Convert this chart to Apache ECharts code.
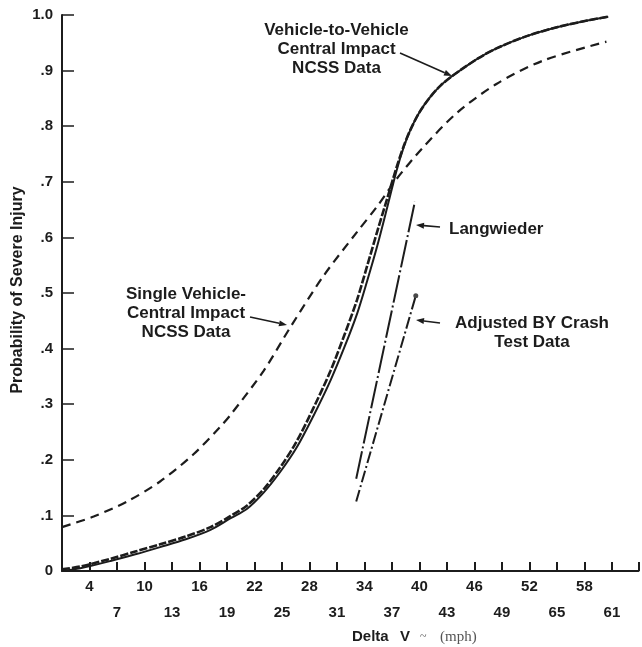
<!DOCTYPE html>
<html>
<head>
<meta charset="utf-8">
<script src="https://cdn.jsdelivr.net/npm/echarts@6/dist/echarts.min.js"></script>
<style>
html,body{margin:0;padding:0;background:#fff;}
#chart{width:642px;height:647px;}
</style>
</head>
<body>
<div id="chart"></div>
<script>
// ---- Data ----
const xTicksRow1 = [4, 10, 16, 22, 28, 34, 40, 46, 52, 58];
const xLabelsRow1 = ['4', '10', '16', '22', '28', '34', '40', '46', '52', '58'];
const xTicksRow2 = [7, 13, 19, 25, 31, 37, 43, 49, 55, 61];
const xLabelsRow2 = ['7', '13', '19', '25', '31', '37', '43', '49', '65', '61'];
const yTickValues = [0, 0.1, 0.2, 0.3, 0.4, 0.5, 0.6, 0.7, 0.8, 0.9, 1.0];
const yTickLabels = ['0', '.1', '.2', '.3', '.4', '.5', '.6', '.7', '.8', '.9', '1.0'];

// Vehicle-to-Vehicle Central Impact NCSS Data (solid)
const vvSolidX = [1, 3, 6.3, 9, 11.7, 14.5, 17.2, 19.4, 21.2, 23, 24.8, 26.6, 28.4, 30.3, 31.8, 33.2, 34.3, 35.4, 36.5, 37.5, 38.3, 39, 40, 41.2, 42.3, 43.4, 44.4, 46.4, 48.4, 51.7, 55, 58.3, 60.6];
const vvSolidY = [0, 0.005, 0.018, 0.03, 0.043, 0.057, 0.074, 0.095, 0.112, 0.141, 0.178, 0.222, 0.278, 0.343, 0.402, 0.463, 0.522, 0.585, 0.655, 0.72, 0.763, 0.793, 0.825, 0.853, 0.873, 0.888, 0.9, 0.922, 0.94, 0.962, 0.978, 0.99, 0.997];
// Vehicle-to-Vehicle (heavy dashed)
const vvDashX = [1, 3, 6.3, 9, 11.7, 14.5, 17.2, 19.4, 21.2, 23, 24.8, 26.6, 28.4, 30.3, 31.8, 33.2, 34.3, 35.4, 36.5, 37.5, 38.3, 39, 40, 41.2, 42.3, 43.4, 44.4, 46.4, 48.4, 51.7, 55, 58.3, 60.6];
const vvDashY = [0.003, 0.008, 0.022, 0.035, 0.048, 0.062, 0.079, 0.099, 0.118, 0.147, 0.186, 0.233, 0.292, 0.36, 0.424, 0.488, 0.549, 0.611, 0.671, 0.726, 0.765, 0.793, 0.825, 0.853, 0.873, 0.888, 0.9, 0.922, 0.94, 0.962, 0.978, 0.99, 0.997];
// Single Vehicle Central Impact NCSS Data (dashed)
const svX = [1, 4.45, 8.1, 11.7, 15.35, 18.3, 19.35, 23, 25.9, 29.5, 33.2, 35.35, 37.5, 40.4, 44.1, 48.4, 53.5, 60.4];
const svY = [0.079, 0.098, 0.125, 0.161, 0.21, 0.26, 0.28, 0.36, 0.438, 0.53, 0.61, 0.655, 0.705, 0.762, 0.824, 0.876, 0.918, 0.952];
// Langwieder
const langX = [33.1, 39.5];
const langY = [0.166, 0.664];
// Adjusted BY Crash Test Data
const adjX = [33.1, 39.6];
const adjY = [0.125, 0.495];

function pairs(xs, ys) { return xs.map((x, i) => [x, ys[i]]); }

const ink = '#1c1c1c';
const sans = '"Liberation Sans", Arial, sans-serif';

function arrow(x1, y1, x2, y2) {
  const ang = Math.atan2(y2 - y1, x2 - x1);
  const L = 8, W = 3;
  const bx = x2 - L * Math.cos(ang), by = y2 - L * Math.sin(ang);
  const px = -Math.sin(ang) * W, py = Math.cos(ang) * W;
  return [
    { type: 'line', shape: { x1: x1, y1: y1, x2: bx, y2: by }, style: { stroke: ink, lineWidth: 1.6 } },
    { type: 'polygon', shape: { points: [[x2, y2], [bx + px, by + py], [bx - px, by - py]] }, style: { fill: ink } }
  ];
}

function txt(x, y, text, align) {
  return { type: 'text', x: x, y: y, style: { text: text, font: 'bold 17px ' + sans, fill: ink, textAlign: align || 'center', textVerticalAlign: 'middle', lineHeight: 19 } };
}

const chart = echarts.init(document.getElementById('chart'));
chart.setOption({
  backgroundColor: '#fff',
  animation: false,
  grid: { left: 62, right: 3.5, top: 15, bottom: 76, containLabel: false, outerBoundsMode: 'none' },
  xAxis: {
    type: 'value', min: 1, max: 63.9, interval: 3,
    axisLine: { lineStyle: { color: ink, width: 2 } },
    axisTick: { inside: true, length: 9, lineStyle: { color: ink, width: 2 } },
    splitLine: { show: false },
    axisLabel: {
      margin: 3, lineHeight: 26, fontSize: 15, fontWeight: 'bold', color: ink, fontFamily: sans,
      formatter: function (v) {
        let i = xTicksRow1.indexOf(Math.round(v));
        if (i >= 0) return xLabelsRow1[i];
        i = xTicksRow2.indexOf(Math.round(v));
        if (i >= 0) return '\n' + xLabelsRow2[i];
        return '';
      }
    }
  },
  yAxis: {
    type: 'value', min: 0, max: 1, interval: 0.1,
    axisLine: { lineStyle: { color: ink, width: 2 } },
    axisTick: { inside: true, length: 12, lineStyle: { color: ink, width: 1.5 } },
    splitLine: { show: false },
    axisLabel: {
      margin: 9, fontSize: 15, fontWeight: 'bold', color: ink, fontFamily: sans,
      formatter: function (v) {
        for (let i = 0; i < yTickValues.length; i++) if (Math.abs(yTickValues[i] - v) < 1e-6) return yTickLabels[i];
        return '';
      }
    }
  },
  series: [
    { type: 'line', name: 'Vehicle-to-Vehicle (solid)', data: pairs(vvSolidX, vvSolidY), smooth: 0.3, symbol: 'none',
      lineStyle: { color: ink, width: 2 } },
    { type: 'line', name: 'Vehicle-to-Vehicle (dashed)', data: pairs(vvDashX, vvDashY), smooth: 0.3, symbol: 'none',
      lineStyle: { color: ink, width: 2.6, type: [8, 2] } },
    { type: 'line', name: 'Single Vehicle', data: pairs(svX, svY), smooth: 0.3, symbol: 'none',
      lineStyle: { color: ink, width: 2.2, type: [9, 6] } },
    { type: 'line', name: 'Langwieder', data: pairs(langX, langY), symbol: 'none',
      lineStyle: { color: ink, width: 2, type: [28, 3, 2, 3] } },
    { type: 'line', name: 'Adjusted BY Crash Test Data', data: pairs(adjX, adjY), symbol: 'none',
      lineStyle: { color: ink, width: 2, type: [12, 3, 2, 3] } },
    { type: 'scatter', data: [[adjX[adjX.length - 1], adjY[adjY.length - 1]]], symbol: 'circle', symbolSize: 5,
      itemStyle: { color: ink } }
  ],
  graphic: [
    { type: 'text', x: 18, y: 290, rotation: Math.PI / 2,
      style: { text: 'Probability of Severe Injury', font: 'bold 16px ' + sans, fill: ink, textAlign: 'center', textVerticalAlign: 'middle' } },
    txt(336.5, 49, 'Vehicle-to-Vehicle\nCentral Impact\nNCSS Data'),
    ...arrow(400, 53, 452, 76),
    txt(186, 313.5, 'Single Vehicle-\nCentral Impact\nNCSS Data'),
    ...arrow(250, 317, 287, 325),
    txt(449, 229, 'Langwieder', 'left'),
    ...arrow(440, 227, 416, 225),
    txt(532, 333, 'Adjusted BY Crash\nTest Data'),
    ...arrow(440, 323, 416, 320),
    { type: 'text', x: 352, y: 637, style: { text: 'Delta', font: 'bold 15px ' + sans, fill: ink, textVerticalAlign: 'middle' } },
    { type: 'text', x: 400, y: 637, style: { text: 'V', font: 'bold 15px ' + sans, fill: ink, textVerticalAlign: 'middle' } },
    { type: 'text', x: 420, y: 637, style: { text: '~', font: '12px "Liberation Serif", serif', fill: '#555', textVerticalAlign: 'middle' } },
    { type: 'text', x: 440, y: 637, style: { text: '(mph)', font: '15px "Liberation Serif", serif', fill: '#555', textVerticalAlign: 'middle' } }
  ]
});
</script>
</body>
</html>
